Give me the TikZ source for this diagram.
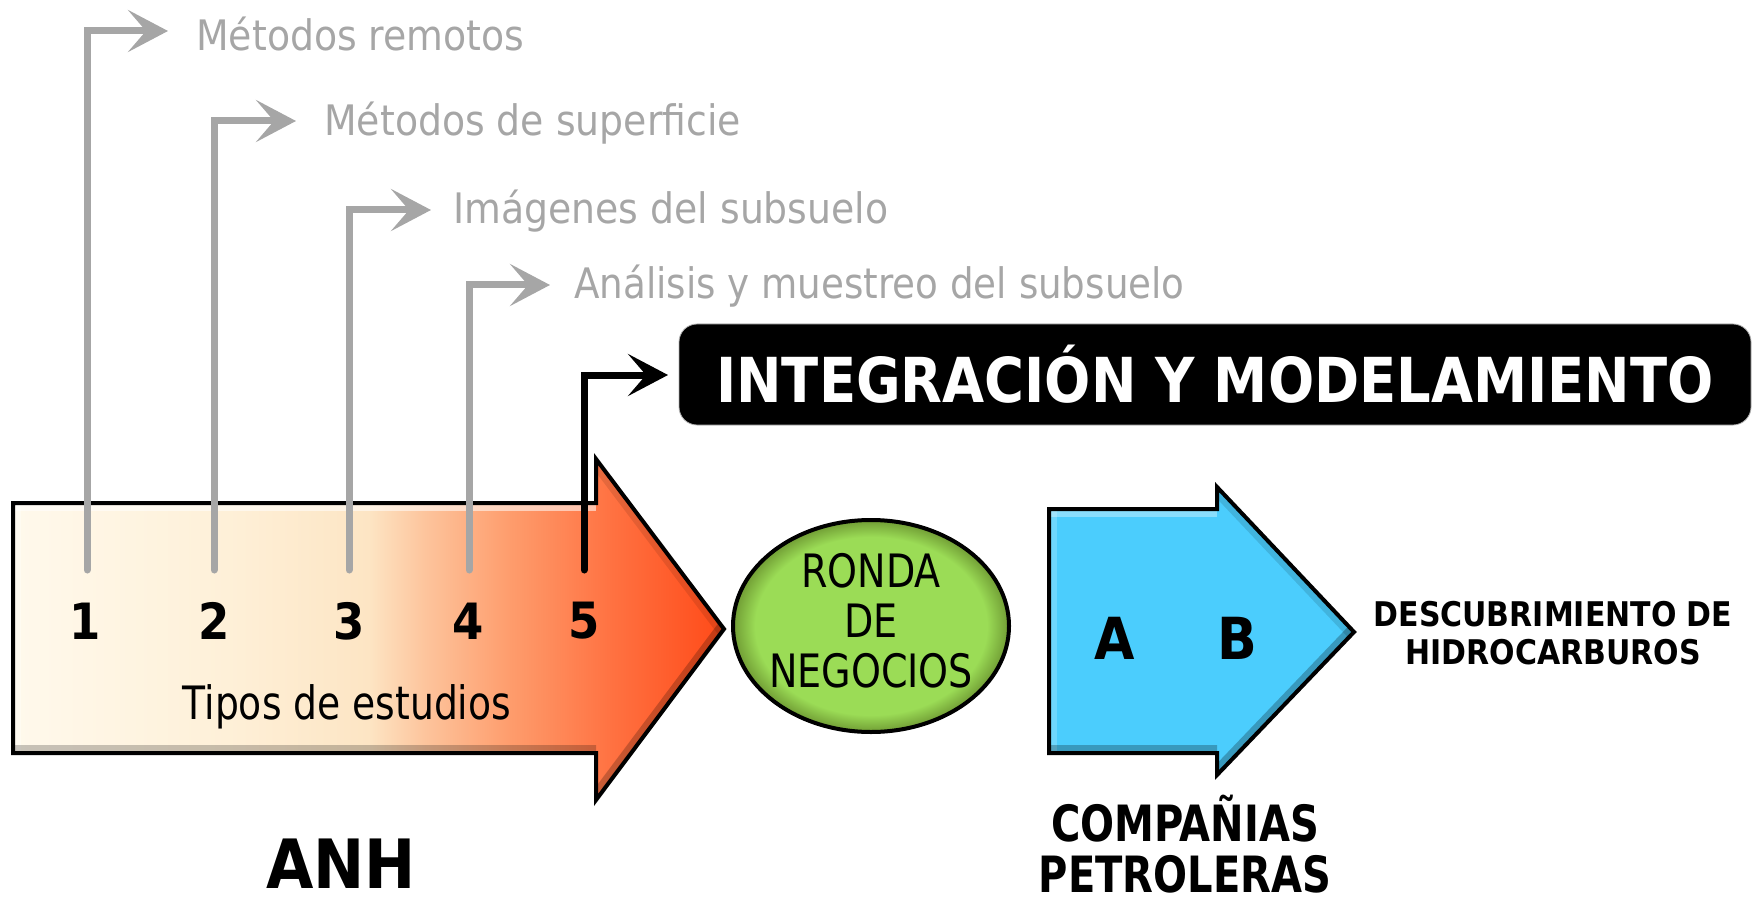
\documentclass[tikz,border=0pt]{standalone}
\usepackage{fontspec}
\setmainfont{DejaVu Sans Condensed}[BoldFont={DejaVu Sans Condensed Bold}]
\usetikzlibrary{arrows.meta,shapes.geometric}
\definecolor{grayc}{HTML}{A6A6A6}
\definecolor{bluef}{HTML}{4BCDFD}
\definecolor{greenf}{HTML}{9BDC56}
\definecolor{greenr}{HTML}{709C34}
\definecolor{oc0}{HTML}{FFF9EC}
\definecolor{oc1}{HTML}{FEF0D8}
\definecolor{oc2}{HTML}{FDE5C4}
\definecolor{oc3}{HTML}{FDC49C}
\definecolor{oc4}{HTML}{FE9C6C}
\definecolor{oc5}{HTML}{FF7242}
\definecolor{oc6}{HTML}{FF4A18}
\pgfdeclarehorizontalshading{orangegrad}{100bp}{color(0bp)=(oc0); color(25bp)=(oc0); color(40bp)=(oc1); color(50bp)=(oc2); color(54bp)=(oc3); color(60bp)=(oc4); color(67bp)=(oc5); color(75bp)=(oc6); color(100bp)=(oc6)}
\pgfdeclareradialshading{greengrad}{\pgfpoint{0bp}{0bp}}{color(0bp)=(greenf); color(21bp)=(greenf); color(25bp)=(greenr); color(50bp)=(greenr)}
\tikzset{
  gconn/.style={line width=3.5pt, draw=grayc, line cap=round,
    -{Stealth[length=20pt,width=21pt,inset=9pt]}},
  bconn/.style={gconn, draw=black},
  gtext/.style={text=grayc, font=\fontsize{21}{25}\selectfont, anchor=west, inner sep=0pt},
  num/.style={font=\bfseries\fontsize{25}{30}\selectfont, inner sep=0pt},
  bigarrow/.style={draw=black, line width=2pt, line join=miter},
  hilite/.style={white, line width=8pt},
  shade/.style={black, line width=8pt},
  caption/.style={inner sep=0pt}
}
\begin{document}
\begin{tikzpicture}[x=0.5pt,y=-0.5pt]
\useasboundingbox (0,0) rectangle (1754,903);
% orange arrow
\path[shading=orangegrad] (13,503) -- (596,503) -- (596,459) -- (724,629) -- (596,800) -- (596,753) -- (13,753) -- cycle;
\begin{scope}
\clip (13,503) -- (596,503) -- (596,459) -- (724,629) -- (596,800) -- (596,753) -- (13,753) -- cycle;
\draw[hilite, opacity=.55] (13,503) -- (596,503);
\draw[hilite, opacity=.35] (13,503) -- (13,753);
\draw[shade, opacity=.22] (13,753) -- (596,753) (596,800) -- (724,629);
\draw[shade, opacity=.10] (596,459) -- (724,629);
\end{scope}
\draw[bigarrow] (13,503) -- (596,503) -- (596,459) -- (724,629) -- (596,800) -- (596,753) -- (13,753) -- cycle;
% blue arrow
\fill[bluef] (1049,509) -- (1217,509) -- (1217,487) -- (1354,632) -- (1217,775) -- (1217,753) -- (1049,753) -- cycle;
\begin{scope}
\clip (1049,509) -- (1217,509) -- (1217,487) -- (1354,632) -- (1217,775) -- (1217,753) -- (1049,753) -- cycle;
\draw[hilite, opacity=.35] (1049,509) -- (1217,509);
\draw[hilite, opacity=.2] (1049,509) -- (1049,753);
\draw[shade, opacity=.25] (1049,753) -- (1217,753) (1217,775) -- (1354,632);
\draw[shade, opacity=.12] (1217,487) -- (1354,632);
\end{scope}
\draw[bigarrow] (1049,509) -- (1217,509) -- (1217,487) -- (1354,632) -- (1217,775) -- (1217,753) -- (1049,753) -- cycle;
% ellipse
\node[ellipse, draw=black, line width=2pt, shading=greengrad, minimum width=138pt, minimum height=106pt, inner sep=0pt] (ronda) at (871,626) {};
\node[caption, font=\fontsize{23}{25}\selectfont] (rondat) at (871,627) {\scalebox{0.92}[1]{\begin{tabular}{@{}c@{}}RONDA\\DE\\NEGOCIOS\end{tabular}}};
% black box
\node[fill=black, draw=gray!60, rounded corners=9pt, minimum width=536pt, minimum height=50.5pt, inner sep=0pt, text=white, font=\bfseries\fontsize{31}{36}\selectfont] (integ) at (1215,374.5) {\scalebox{0.975}[1]{INTEGRACIÓN Y MODELAMIENTO}};
% texts
\node[gtext] (m1) at (196,34) {Métodos remotos};
\node[gtext] (m2) at (324,123) {Métodos de superficie};
\node[gtext] (m3) at (453,211) {Imágenes del subsuelo};
\node[gtext] (m4) at (574,286) {\scalebox{0.985}[1]{Análisis y muestreo del subsuelo}};
% numbers
\node[num] (n1) at (85,621) {1};
\node[num] (n2) at (214,621) {2};
\node[num] (n3) at (349,621) {3};
\node[num] (n4) at (468,621) {4};
\node[num] (n5) at (584,621) {5};
\node[font=\fontsize{23}{25}\selectfont, inner sep=0pt] (tipos) at (347,707) {\scalebox{0.91}[1]{Tipos de estudios}};
% connectors
\coordinate (s1) at (87,570); \coordinate (e1) at (168,31);
\coordinate (s2) at (214,570); \coordinate (e2) at (296,121);
\coordinate (s3) at (349,570); \coordinate (e3) at (431,210);
\coordinate (s4) at (469,570); \coordinate (e4) at (550,285);
\coordinate (s5) at (584,570); \coordinate (e5) at (668,375);
\draw[gconn] (s1) |- (e1);
\draw[gconn] (s2) |- (e2);
\draw[gconn] (s3) |- (e3);
\draw[gconn] (s4) |- (e4);
\draw[bconn] (s5) |- (e5);
% A B
\node[num, font=\bfseries\fontsize{29}{32}\selectfont] (a) at (1115,638) {A};
\node[num, font=\bfseries\fontsize{29}{32}\selectfont] (b) at (1237,638) {B};
% captions
\node[caption, font=\bfseries\fontsize{17}{19}\selectfont] (desc) at (1553,638) {\scalebox{0.98}[1]{\begin{tabular}{@{}c@{}}DESCUBRIMIENTO DE\\HIDROCARBUROS\end{tabular}}};
\node[caption, font=\bfseries\fontsize{25}{24}\selectfont] (comp) at (1185,851) {\scalebox{0.89}[1]{\begin{tabular}{@{}c@{}}COMPAÑIAS\\PETROLERAS\end{tabular}}};
\node[caption, font=\bfseries\fontsize{34}{40}\selectfont] (anh) at (341,864) {ANH};
\end{tikzpicture}
\end{document}
